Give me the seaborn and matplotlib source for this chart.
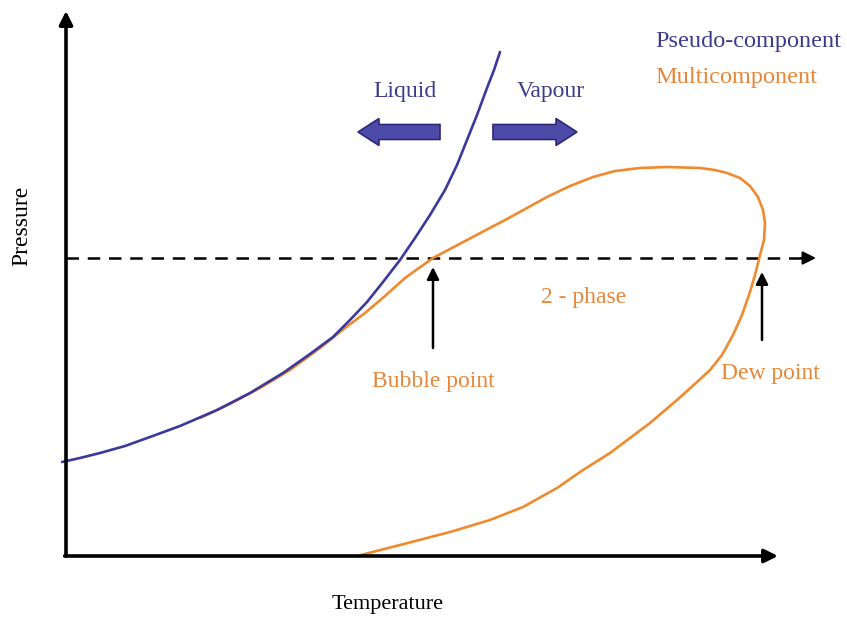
import matplotlib
matplotlib.use("Agg")
import matplotlib.pyplot as plt
from matplotlib.patches import FancyArrow
import seaborn as sns

# curves (temperature, pressure in arbitrary units)
pseudo_T = [-4, 14, 34, 59, 84, 114, 151, 184, 217, 244, 267, 284, 301, 317, 334,
            349, 364, 379, 391, 401, 411, 421, 428, 434]
pseudo_P = [94, 98, 103, 110, 119, 130, 146, 163, 183, 202, 219, 236, 254, 274, 296,
            318, 341, 366, 391, 416, 441, 468, 486, 504]

multi_T = [134, 164, 194, 224, 254, 279, 299, 319, 339, 367, 401, 441, 481, 504, 527,
           549, 574, 601, 634, 649, 661, 674, 684, 692, 697, 699, 698, 694, 689, 684,
           676, 667, 656, 644, 631, 611, 584, 544, 517, 491, 457, 424, 384, 334, 291]
multi_P = [138, 152, 168, 186, 208, 228, 243, 260, 278, 298, 316, 337, 359, 370, 379,
           385, 388, 389, 388, 386, 383, 378, 370, 359, 346, 333, 316, 301, 281, 264,
           241, 221, 201, 186, 174, 156, 133, 103, 86, 68, 49, 36, 24, 11, 0]

isobar_P = 298
isobar_T = [0, 738]
bubble_T = 367
dew_T = 696

blue = "#3b399c"
blue_txt = "#3e3b8c"
orange = "#f08a2e"
orange_txt = "#e8873a"

sns.set_theme(style="white")
plt.rcParams["font.family"] = ["Liberation Serif", "DejaVu Serif"]

fig = plt.figure(figsize=(8.47, 6.17), dpi=100)
ax = fig.add_axes([0, 0, 1, 1])
ax.set_xlim(-66, 781)
ax.set_ylim(-61, 556)
ax.axis("off")

# curves
sns.lineplot(x=multi_T, y=multi_P, sort=False, estimator=None, color=orange, lw=1.9,
             ax=ax, zorder=2, solid_joinstyle="round", solid_capstyle="round")
sns.lineplot(x=pseudo_T, y=pseudo_P, sort=False, estimator=None, color=blue, lw=1.9,
             ax=ax, zorder=3, solid_joinstyle="round", solid_capstyle="round")

# axes with arrow heads
ax.annotate("", xy=(0, 545), xytext=(0, 0),
            arrowprops=dict(arrowstyle="-|>", lw=2.6, color="black", mutation_scale=20, shrinkA=0, shrinkB=0))
ax.annotate("", xy=(712, 0), xytext=(-1.3, 0),
            arrowprops=dict(arrowstyle="-|>", lw=2.6, color="black", mutation_scale=20, shrinkA=0, shrinkB=0))

# dashed isobar
ax.plot(isobar_T, [isobar_P, isobar_P], color="black", lw=1.8, ls=(0, (5, 3.5)), zorder=1)
ax.annotate("", xy=(750, isobar_P), xytext=(735, isobar_P),
            arrowprops=dict(arrowstyle="-|>", lw=1.5, color="black", mutation_scale=20, shrinkA=0, shrinkB=0))

# bubble / dew arrows
ax.annotate("", xy=(bubble_T, 289), xytext=(bubble_T, 208),
            arrowprops=dict(arrowstyle="-|>", lw=1.8, color="black", mutation_scale=18, shrinkA=0, shrinkB=0))
ax.annotate("", xy=(dew_T, 284), xytext=(dew_T, 216),
            arrowprops=dict(arrowstyle="-|>", lw=1.8, color="black", mutation_scale=18, shrinkA=0, shrinkB=0))

# block arrows for liquid / vapour
for x0, dx in [(374, -82), (427, 84)]:
    ax.add_patch(FancyArrow(x0, 424, dx, 0, width=15, head_width=27, head_length=21,
                            length_includes_head=True, facecolor="#4d4aaa", edgecolor="#2c2a78", lw=1.2))

fs = 17
ax.text(589, 514, "Pseudo-component", color=blue_txt, fontsize=17.5, ha="left", va="center")
ax.text(589, 478, "Multicomponent", color=orange_txt, fontsize=17.5, ha="left", va="center")
ax.text(339, 464, "Liquid", color=blue_txt, fontsize=fs, ha="center", va="center")
ax.text(485, 464, "Vapour", color=blue_txt, fontsize=fs, ha="center", va="center")
ax.text(518, 258, "2 - phase", color=orange_txt, fontsize=fs, ha="center", va="center")
ax.text(bubble_T, 175, "Bubble point", color=orange_txt, fontsize=fs, ha="center", va="center")
ax.text(704, 183, "Dew point", color=orange_txt, fontsize=fs, ha="center", va="center")
ax.text(322, -49, "Temperature", color="black", fontsize=16, ha="center", va="center")
ax.text(-44, 330, "Pressure", color="black", fontsize=fs, ha="center", va="center", rotation=90)

fig.savefig("out.png", dpi=100)
